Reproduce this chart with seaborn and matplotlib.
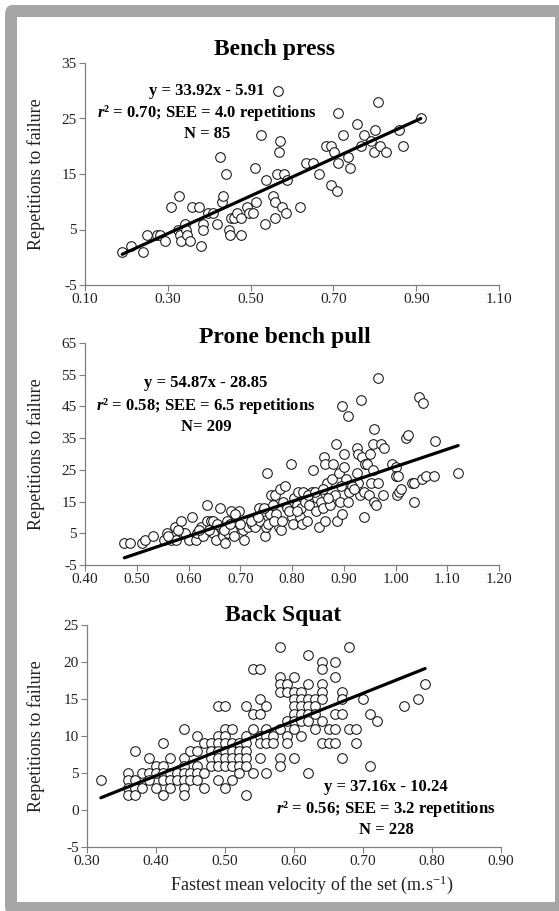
import numpy as np
import pandas as pd
import matplotlib
matplotlib.use("Agg")
import matplotlib.pyplot as plt
from matplotlib.patches import FancyBboxPatch, Rectangle
import seaborn as sns

# ---------------- data ----------------
bench_x = [0.19, 0.21, 0.24, 0.25, 0.275, 0.28, 0.294, 0.307, 0.325, 0.328, 0.33, 0.331,
           0.342, 0.344, 0.346, 0.354, 0.358, 0.375, 0.381, 0.385, 0.385, 0.397, 0.408,
           0.418, 0.427, 0.43, 0.433, 0.44, 0.447, 0.45, 0.452, 0.46, 0.467, 0.476, 0.478,
           0.492, 0.495, 0.506, 0.511, 0.514, 0.524, 0.534, 0.536, 0.555, 0.56, 0.56, 0.563,
           0.565, 0.571, 0.569, 0.577, 0.58, 0.585, 0.589, 0.619, 0.635, 0.65, 0.665, 0.681,
           0.693, 0.695, 0.701, 0.709, 0.71, 0.71, 0.724, 0.736, 0.74, 0.756, 0.766, 0.774,
           0.79, 0.797, 0.80, 0.808, 0.812, 0.828, 0.859, 0.869, 0.911]
bench_y = [1, 2, 1, 4, 4, 4, 3, 9, 5, 11, 4, 3,
           6, 5, 4, 3, 9, 9, 2, 6, 5, 8, 8,
           6, 18, 10, 11, 15, 5, 4, 7, 7, 8, 7, 4,
           9, 8, 8, 16, 10, 22, 6, 14, 11, 10, 7, 15,
           30, 21, 19, 9, 15, 8, 14, 9, 17, 17, 15, 20,
           13, 20, 19, 12, 17, 26, 22, 18, 16, 24, 20, 22,
           21, 19, 23, 28, 20, 19, 23, 20, 25]

prone_x = [0.476, 0.486, 0.51, 0.515, 0.531, 0.552, 0.559, 0.566, 0.573, 0.576, 0.586, 0.59,
           0.593, 0.60, 0.607, 0.614, 0.617, 0.624, 0.628, 0.635, 0.635, 0.643, 0.648, 0.648,
           0.653, 0.66, 0.663, 0.667, 0.67, 0.674, 0.677, 0.683, 0.684, 0.688, 0.691, 0.698,
           0.705, 0.708, 0.715, 0.722, 0.729, 0.736, 0.739, 0.743, 0.747, 0.75, 0.752, 0.754,
           0.758, 0.76, 0.763, 0.768, 0.77, 0.774, 0.777, 0.779, 0.782, 0.787, 0.791, 0.798,
           0.80, 0.801, 0.804, 0.809, 0.812, 0.815, 0.818, 0.82, 0.822, 0.825, 0.829, 0.832,
           0.839, 0.841, 0.846, 0.849, 0.853, 0.856, 0.86, 0.862, 0.863, 0.864, 0.868, 0.873,
           0.877, 0.88, 0.884, 0.885, 0.887, 0.89, 0.892, 0.896, 0.897, 0.90, 0.901, 0.904,
           0.908, 0.908, 0.911, 0.925, 0.925, 0.927, 0.928, 0.932, 0.933, 0.935, 0.939, 0.939,
           0.942, 0.945, 0.949, 0.951, 0.952, 0.956, 0.958, 0.956, 0.959, 0.963, 0.967, 0.967,
           0.972, 0.976, 0.978, 0.994, 1.00, 1.00, 1.002, 1.005, 1.007, 1.011, 1.021, 1.025,
           1.032, 1.035, 1.036, 1.045, 1.052, 1.054, 1.059, 1.075, 1.076, 1.121,
           0.56, 0.58, 0.62, 0.64, 0.655, 0.668, 0.68, 0.69, 0.70, 0.72, 0.735, 0.745,
           0.765, 0.78, 0.795, 0.81, 0.83, 0.845, 0.87, 0.915, 0.92, 0.895, 0.86]
prone_y = [2, 2, 2, 3, 4, 3, 5, 3, 7, 3, 9, 5,
           5, 3, 10, 3, 5, 7, 4, 14, 9, 9, 9, 5,
           3, 13, 7, 4, 2, 9, 5, 12, 6, 4, 9, 12,
           6, 3, 7, 8, 7, 13, 9, 12, 4, 7, 24, 8,
           11, 17, 14, 17, 11, 7, 19, 6, 15, 20, 13, 27,
           10, 8, 16, 14, 18, 10, 13, 8, 18, 15, 9, 14,
           18, 25, 12, 16, 7, 15, 13, 29, 9, 27, 21, 14,
           22, 27, 17, 33, 9, 24, 15, 45, 11, 26, 30, 22,
           42, 15, 18, 32, 24, 30, 21, 17, 47, 29, 10, 18,
           27, 27, 17, 30, 21, 33, 38, 25, 15, 14, 54, 21,
           33, 17, 32, 27, 26, 23, 17, 23, 18, 19, 35, 36,
           21, 15, 21, 48, 22, 46, 23, 23, 34, 24,
           4, 6, 6, 6, 8, 6, 8, 11, 8, 9, 10, 13,
           9, 9, 12, 12, 17, 18, 16, 20, 19, 20, 19]

squat_cols = [0.32, 0.36, 0.37, 0.38, 0.39, 0.40, 0.41, 0.42, 0.43, 0.44, 0.45, 0.46, 0.47,
              0.48, 0.49, 0.50, 0.51, 0.52, 0.53, 0.54, 0.55, 0.56, 0.57, 0.58, 0.59, 0.60,
              0.61, 0.62, 0.63, 0.64, 0.65, 0.66, 0.67, 0.68, 0.69, 0.70, 0.71, 0.72, 0.76,
              0.78, 0.79]
squat_reps = [[4], [5, 4, 3, 2], [8, 4, 3, 2], [5, 3], [7, 5, 4], [6, 5, 3], [9, 6, 5, 4, 2],
              [7, 5, 4, 3], [5, 4], [11, 7, 6, 5, 4, 3, 2], [8, 5, 4], [10, 8, 6, 5, 4],
              [9, 5, 3], [9, 8, 7, 6], [14, 10, 9, 8, 7, 6, 4], [14, 11, 10, 9, 8, 7, 6, 3],
              [11, 9, 8, 7, 6, 4], [9, 8, 7, 6, 5], [14, 10, 9, 8, 7, 6, 2], [19, 13, 11, 5],
              [19, 15, 13, 10, 9, 7], [14, 11, 10, 9, 5], [10, 9], [22, 18, 17, 16, 11, 7, 6],
              [17, 16, 12, 10, 9], [18, 16, 15, 14, 13, 12, 11, 7], [16, 15, 14, 13, 12, 10],
              [21, 17, 15, 14, 13, 12, 5], [15, 14, 13, 11], [20, 19, 17, 16, 15, 12, 9],
              [11, 9], [20, 18, 13, 11, 9], [16, 15, 13, 7], [22, 11], [11, 9], [15], [13, 6],
              [12], [14], [15], [17]]

titles = ["Bench press", "Prone bench pull", "Back Squat"]
slopes = [33.92, 54.87, 37.16]
intercepts = [-5.91, -28.85, -10.24]
eq_labels = ["y = 33.92x - 5.91", "y = 54.87x - 28.85", "y = 37.16x - 10.24"]
stat_labels = ["$r$\u00b2 = 0.70; SEE = 4.0 repetitions",
               "$r$\u00b2 = 0.58; SEE = 6.5 repetitions",
               "$r$\u00b2 = 0.56; SEE = 3.2 repetitions"]
n_labels = ["N = 85", "N= 209", "N = 228"]
x_ticks = [[0.10, 0.30, 0.50, 0.70, 0.90, 1.10],
           [0.40, 0.50, 0.60, 0.70, 0.80, 0.90, 1.00, 1.10, 1.20],
           [0.30, 0.40, 0.50, 0.60, 0.70, 0.80, 0.90]]
y_ticks = [[-5, 5, 15, 25, 35],
           [-5, 5, 15, 25, 35, 45, 55, 65],
           [-5, 0, 5, 10, 15, 20, 25]]
y_label = "Repetitions to failure"
x_label = "Fastest mean velocity of the set (m.s$^{-1}$)"

squat_x = [c for c, reps in zip(squat_cols, squat_reps) for _ in reps]
squat_y = [r for reps in squat_reps for r in reps]

datasets = [pd.DataFrame({"x": bench_x, "y": bench_y}),
            pd.DataFrame({"x": prone_x, "y": prone_y}),
            pd.DataFrame({"x": squat_x, "y": squat_y})]

# ---------------- style ----------------
sns.set_theme(style="white")
plt.rcParams["font.family"] = ["Liberation Serif", "DejaVu Serif"]
plt.rcParams["mathtext.fontset"] = "custom"
plt.rcParams["mathtext.rm"] = "Liberation Serif"
plt.rcParams["mathtext.it"] = "Liberation Serif:italic:bold"

W, H = 559, 911
fig = plt.figure(figsize=(W / 100, H / 100), dpi=100)
fig.patch.set_facecolor("white")

def fx(px):
    return px / W

def fy(py):
    return 1 - py / H

# frame
fig.patches.append(FancyBboxPatch((fx(5), fy(916)), fx(565) - fx(5), fy(5) - fy(916),
                                  boxstyle="round,pad=0,rounding_size=0.012",
                                  transform=fig.transFigure, facecolor="#a6a6a6",
                                  edgecolor="none", zorder=-3))
fig.patches.append(Rectangle((fx(17), fy(902)), fx(555) - fx(17), fy(17) - fy(902),
                             transform=fig.transFigure, facecolor="white",
                             edgecolor="none", zorder=-2))

# axes boxes in pixels: left, right, top, bottom
boxes = [(85, 499, 63, 285), (85, 499, 343, 565), (87, 501, 625, 847)]
title_pos = [(275, 50), (285, 338), (283, 615)]
ann_pos = [(207, [91, 113, 134]), (206, [383, 406, 427]), (386, [787, 809, 830])]

for i, (df, (l, r, t, b)) in enumerate(zip(datasets, boxes)):
    ax = fig.add_axes([fx(l), fy(b), fx(r) - fx(l), fy(t) - fy(b)])
    ax.set_zorder(1)
    ax.set_facecolor("none")
    sns.scatterplot(data=df, x="x", y="y", ax=ax, marker="o", s=48,
                    facecolor="white", edgecolor="#111111", linewidth=0.75, zorder=3)
    xmin, xmax = min(df["x"]), max(df["x"])
    line_df = pd.DataFrame({"x": [xmin, xmax],
                            "y": [slopes[i] * xmin + intercepts[i],
                                  slopes[i] * xmax + intercepts[i]]})
    sns.lineplot(data=line_df, x="x", y="y", ax=ax, color="black", linewidth=2.3,
                 zorder=4)
    ax.set_xlim(x_ticks[i][0], x_ticks[i][-1])
    ax.set_ylim(y_ticks[i][0], y_ticks[i][-1])
    ax.set_xticks(x_ticks[i])
    ax.set_xticklabels([f"{v:.2f}" for v in x_ticks[i]])
    ax.set_yticks(y_ticks[i])
    ax.set_yticklabels([f"{v:d}" for v in y_ticks[i]])
    for s in ["top", "right"]:
        ax.spines[s].set_visible(False)
    for s in ["left", "bottom"]:
        ax.spines[s].set_color("#7f7f7f")
        ax.spines[s].set_linewidth(0.9)
    ax.tick_params(axis="both", which="major", direction="out", length=4, width=0.8,
                   color="#7f7f7f", labelsize=11, labelcolor="#222222", pad=2,
                   bottom=True, left=True)
    ax.set_xlabel("")
    ax.set_ylabel(y_label, fontsize=13, color="#222222")
    ax.yaxis.set_label_coords((45 - l) / (r - l), 0.5)

    tx, ty = title_pos[i]
    fig.text(fx(tx), fy(ty), titles[i], ha="center", va="center", fontsize=17,
             fontweight="bold", color="black")
    ax_x, ys = ann_pos[i]
    for txt, yy in zip([eq_labels[i], stat_labels[i], n_labels[i]], ys):
        fig.text(fx(ax_x), fy(yy), txt, ha="center", va="center", fontsize=12,
                 fontweight="bold", color="black")

fig.text(fx(312), fy(885), x_label, ha="center", va="center", fontsize=13,
         color="#222222")

fig.savefig("out.png", dpi=100)
